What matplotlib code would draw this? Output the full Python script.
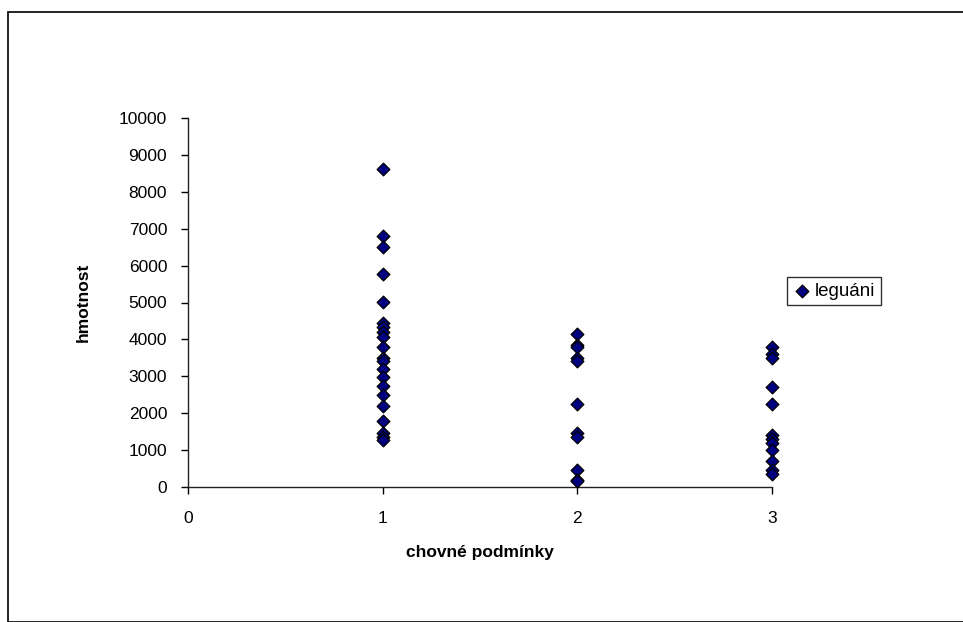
import matplotlib
matplotlib.use("Agg")
import matplotlib.pyplot as plt
from matplotlib.patches import Rectangle

plt.rcParams['font.family'] = ['Liberation Sans', 'DejaVu Sans']

# chovné podmínky (1, 2, 3) a hmotnost jednotlivých leguánů
podminky_1 = [8620, 6810, 6510, 5770, 5010, 4450, 4340, 4210, 4060, 3800,
              3490, 3420, 3190, 2990, 2740, 2490, 2190, 1800, 1470, 1360, 1280]
podminky_2 = [4150, 3850, 3800, 3500, 3420, 2250, 1450, 1350, 450, 200, 150]
podminky_3 = [3800, 3600, 3500, 2700, 2250, 1400, 1300, 1200, 1000, 700, 450, 350]

x_vals = [1] * len(podminky_1) + [2] * len(podminky_2) + [3] * len(podminky_3)
y_vals = podminky_1 + podminky_2 + podminky_3

W, H = 963, 622
fig = plt.figure(figsize=(W / 100, H / 100), dpi=100)
fig.patches.append(Rectangle((8 / W, 0), 1, 1 - 12 / H, transform=fig.transFigure,
                             fill=False, edgecolor='black', linewidth=1.2))

ax = fig.add_axes([188 / W, (H - 487) / H, (772 - 188) / W, (487 - 118) / H])
ax.scatter(x_vals, y_vals, marker='D', s=42, facecolor='#000080',
           edgecolor='black', linewidth=0.9, clip_on=False, zorder=3, label='leguáni')

ax.set_xlim(0, 3)
ax.set_ylim(0, 10000)
ax.set_xticks([0, 1, 2, 3])
ax.set_yticks(range(0, 10001, 1000))
ax.spines['top'].set_visible(False)
ax.spines['right'].set_visible(False)
for s in ('left', 'bottom'):
    ax.spines[s].set_linewidth(1)
    ax.spines[s].set_color('#222222')
ax.tick_params(axis='both', direction='out', length=5, width=1, labelsize=12.5, colors='black')
ax.tick_params(axis='x', pad=12)
ax.tick_params(axis='y', pad=10)

ax.set_xlabel('chovné podmínky', fontsize=12.5, fontweight='bold', labelpad=14)
ax.set_ylabel('hmotnost', fontsize=12.5, fontweight='bold', labelpad=20)

leg = ax.legend(loc='upper left', bbox_to_anchor=(787 / W, 1 - 277 / H),
                bbox_transform=fig.transFigure, fontsize=13.5, frameon=True,
                fancybox=False, handletextpad=0.2, handlelength=1.0,
                borderpad=0.3, borderaxespad=0, markerscale=1.0)
leg.get_frame().set_edgecolor('black')
leg.get_frame().set_linewidth(1)

fig.savefig('out.png', dpi=100)
